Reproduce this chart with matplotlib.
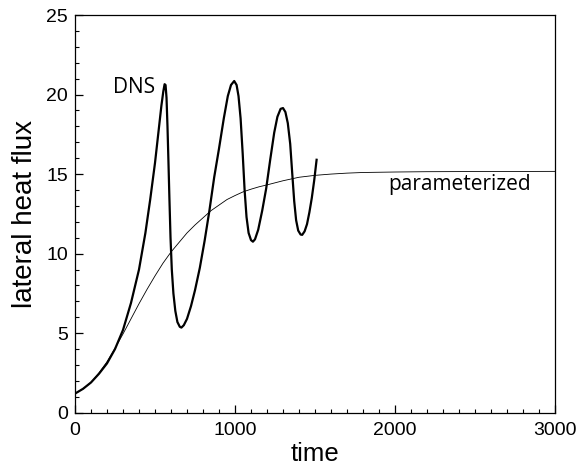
import matplotlib
matplotlib.use("Agg")
import matplotlib.pyplot as plt
from matplotlib.ticker import MultipleLocator

# DNS curve (time, lateral heat flux)
dns_t = [0, 50, 100, 150, 200, 250, 300, 350, 400, 440, 470, 500, 520, 540, 552, 560, 566, 572,
         578, 584, 590, 597, 605, 615, 627, 640, 655, 665, 680, 700, 725, 750, 780, 810, 840, 870,
         900, 930, 955, 975, 995, 1010, 1022, 1035, 1048, 1060, 1072, 1085, 1100, 1112, 1125,
         1145, 1170, 1195, 1220, 1245, 1265, 1285, 1300, 1315, 1330, 1345, 1358, 1370, 1382,
         1395, 1410, 1420, 1435, 1450, 1465, 1480, 1495, 1510]
dns_q = [1.2, 1.5, 1.9, 2.45, 3.1, 4.0, 5.2, 6.9, 9.0, 11.3, 13.4, 15.7, 17.5, 19.3, 20.2, 20.65, 20.6, 19.8,
         18.0, 15.8, 13.5, 11.0, 9.0, 7.5, 6.4, 5.7, 5.4, 5.35, 5.5, 5.9, 6.7, 7.7, 9.1, 10.8, 12.7, 14.8,
         16.6, 18.5, 19.9, 20.6, 20.85, 20.6, 19.9, 18.5, 16.3, 14.0, 12.3, 11.3, 10.85, 10.75, 10.9,
         11.5, 12.7, 14.1, 15.9, 17.6, 18.6, 19.1, 19.15, 18.9, 18.2, 16.9, 15.0, 13.3, 12.1,
         11.45, 11.2, 11.18, 11.4, 11.85, 12.6, 13.5, 14.6, 15.9]

# parameterized curve
par_t = [0, 50, 100, 150, 200, 250, 300, 350, 400, 450, 500, 550, 600, 650, 700, 750, 800, 850,
         900, 950, 1000, 1050, 1100, 1150, 1200, 1300, 1400, 1500, 1600, 1700, 1800, 2000, 2200,
         2500, 3000]
par_q = [1.2, 1.5, 1.9, 2.5, 3.2, 4.05, 4.95, 5.9, 6.85, 7.75, 8.6, 9.4, 10.1, 10.7, 11.3, 11.8, 12.25, 12.7,
         13.05, 13.4, 13.65, 13.88, 14.05, 14.2, 14.32, 14.58, 14.8, 14.92, 15.0, 15.06, 15.1, 15.13, 15.15,
         15.16, 15.17]

xticks = [0, 1000, 2000, 3000]
yticks = [0, 5, 10, 15, 20, 25]

fig = plt.figure(figsize=(5.76, 4.66), dpi=100)
ax = fig.add_axes([75/576, (466-412.7)/466, 480/576, (412.7-15)/466])

ax.plot(par_t, par_q, color="black", lw=0.6)
ax.plot(dns_t, dns_q, color="black", lw=1.6, solid_joinstyle="round")

ax.set_xlim(0, 3000)
ax.set_ylim(0, 25)
ax.set_xticks(xticks)
ax.set_yticks(yticks)
ax.xaxis.set_minor_locator(MultipleLocator(100))
ax.yaxis.set_minor_locator(MultipleLocator(1))

tick_font = dict(family=["Liberation Sans", "DejaVu Sans"], size=14)
ax.set_xticklabels([str(v) for v in xticks], **tick_font)
ax.set_yticklabels([str(v) for v in yticks], **tick_font)

ax.tick_params(which="major", direction="in", length=5.5, width=0.9, top=False, right=False)
ax.tick_params(which="minor", direction="in", length=2.7, width=0.8, top=False, right=False)
ax.tick_params(axis="x", which="major", pad=7)
ax.tick_params(axis="y", which="major", pad=5)
for s in ax.spines.values():
    s.set_linewidth(0.9)

ax.set_xlabel("time", family=["Liberation Sans", "DejaVu Sans"], size=18.5, labelpad=2)
ax.set_ylabel("lateral heat flux", family=["Liberation Sans", "DejaVu Sans"], size=20, labelpad=6)

ax.text(239, 20.1, "DNS", family=["Open Sans", "DejaVu Sans"], size=15, ha="left", va="baseline")
ax.text(1958, 14.0, "parameterized", family=["Open Sans", "DejaVu Sans"], size=15, ha="left", va="baseline")

fig.savefig("out.png", dpi=100)
